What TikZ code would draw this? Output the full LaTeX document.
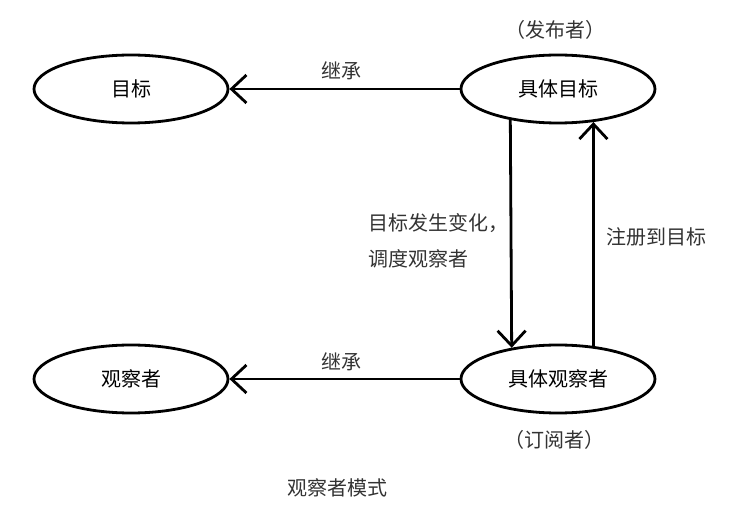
\documentclass[tikz,border=0pt]{standalone}
\usepackage{fontspec}
\setmainfont{Noto Sans CJK SC}
\usetikzlibrary{shapes.geometric,arrows.meta}
\tikzset{
  ell/.style={ellipse,draw,line width=2.8pt,minimum width=194pt,minimum height=68pt,inner sep=0pt,font=\fontsize{20pt}{23pt}\selectfont},
  lbl/.style={inner sep=0pt,font=\fontsize{20pt}{23pt}\selectfont,text=black!80},
  arr/.style={line width=2.8pt,-{Straight Barb[length=15pt,width=28pt,line width=2.8pt]}}
}
\begin{document}
\begin{tikzpicture}[x=1pt,y=-1pt]
\useasboundingbox (0,0) rectangle (732,505);
\node[ell] (mb) at (131,89) {目标};
\node[ell] (jtmb) at (558,89) {具体目标};
\node[ell] (gcz) at (131,379) {观察者};
\node[ell] (jtgcz) at (558,379) {具体观察者};
\draw[arr] (jtmb.west) -- (mb.east);
\draw[arr] (jtgcz.west) -- (gcz.east);
\draw[arr] (jtmb.213.7) -- (jtgcz.146.3);
\draw[arr] (jtgcz.43.1) -- (jtmb.-43.1);
\node[lbl] (l1) at (341,71) {继承};
\node[lbl] (l2) at (341,362) {继承};
\node[lbl,anchor=west] (l3) at (368,223) {目标发生变化，};
\node[lbl,anchor=west] (l4) at (368,259) {调度观察者};
\node[lbl,anchor=west] (l5) at (606,237) {注册到目标};
\node[lbl] (l6) at (555,30) {（发布者）};
\node[lbl] (l7) at (554,440) {（订阅者）};
\node[lbl] (l8) at (337,488) {观察者模式};
\end{tikzpicture}
\end{document}
